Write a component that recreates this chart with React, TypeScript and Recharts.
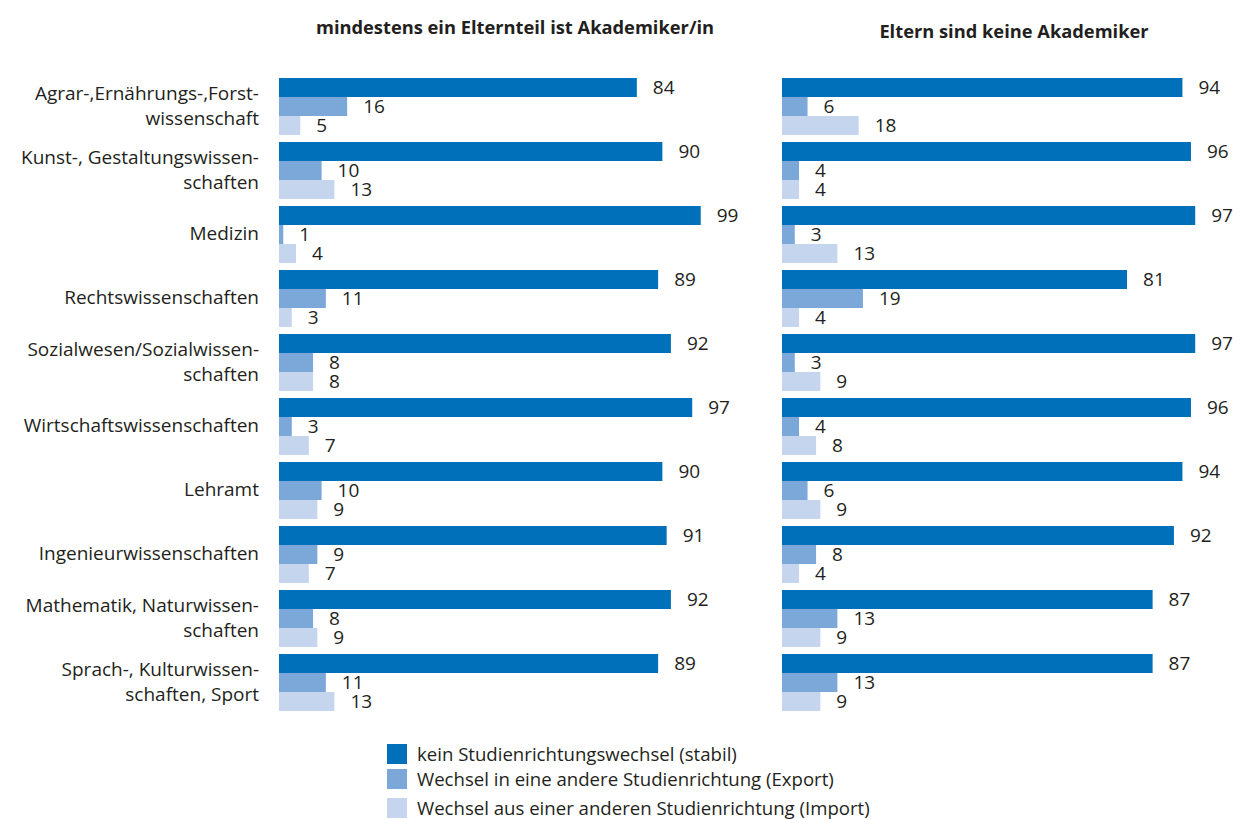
import { Bar, BarChart, LabelList, XAxis, YAxis } from 'recharts';

const categories = [
    'Agrar-,Ernährungs-,Forst-\nwissenschaft',
    'Kunst-, Gestaltungswissen-\nschaften',
    'Medizin',
    'Rechtswissenschaften',
    'Sozialwesen/Sozialwissen-\nschaften',
    'Wirtschaftswissenschaften',
    'Lehramt',
    'Ingenieurwissenschaften',
    'Mathematik, Naturwissen-\nschaften',
    'Sprach-, Kulturwissen-\nschaften, Sport',
];

// mindestens ein Elternteil ist Akademiker/in
const academicStable = [84, 90, 99, 89, 92, 97, 90, 91, 92, 89];
const academicExport = [16, 10, 1, 11, 8, 3, 10, 9, 8, 11];
const academicImport = [5, 13, 4, 3, 8, 7, 9, 7, 9, 13];

// Eltern sind keine Akademiker
const nonAcademicStable = [94, 96, 97, 81, 97, 96, 94, 92, 87, 87];
const nonAcademicExport = [6, 4, 3, 19, 3, 4, 6, 8, 13, 13];
const nonAcademicImport = [18, 4, 13, 4, 9, 8, 9, 4, 9, 9];

const seriesNames = [
    'kein Studienrichtungswechsel (stabil)',
    'Wechsel in eine andere Studienrichtung (Export)',
    'Wechsel aus einer anderen Studienrichtung (Import)',
];

const COLORS = ['#0070ba', '#7ba7d9', '#c6d5ee'];
const TEXT = '#231f20';
const FONT = '"Open Sans", sans-serif';

const buildRows = (stable: number[], exp: number[], imp: number[]) =>
    categories.map((name, i) => ({ name, stable: stable[i], export: exp[i], import: imp[i] }));

const CategoryTick = (props: any) => {
    const { x, y, payload } = props;
    const lines: string[] = String(payload.value).split('\n');
    const lh = 25;
    const startDy = -((lines.length - 1) * lh) / 2;
    return (
        <text x={x} y={y} textAnchor="end" fill={TEXT} fontSize={19} fontFamily={FONT}>
            {lines.map((l, i) => (
                <tspan key={i} x={x} dy={i === 0 ? startDy + 6 : lh}>{l}</tspan>
            ))}
        </text>
    );
};

function Panel({ data, showAxis, width, leftWidth }: { data: any[]; showAxis: boolean; width: number; leftWidth: number }) {
    return (
        <BarChart
            width={width}
            height={730}
            data={data}
            layout="vertical"
            margin={{ top: 74, right: width - leftWidth - 426, bottom: 16, left: 0 }}
            barCategoryGap={4}
            barGap={0}
        >
            <XAxis type="number" domain={[0, 100]} hide />
            <YAxis
                dataKey="name"
                type="category"
                width={leftWidth}
                hide={!showAxis}
                axisLine={false}
                tickLine={false}
                tickSize={0}
                tickMargin={20}
                interval={0}
                tick={<CategoryTick />}
            />
            {(['stable', 'export', 'import'] as const).map((key, i) => (
                <Bar key={key} dataKey={key} name={seriesNames[i]} fill={COLORS[i]} isAnimationActive={false}>
                    <LabelList dataKey={key} position="right" offset={16} fill={TEXT} fontSize={19} fontFamily={FONT} />
                </Bar>
            ))}
        </BarChart>
    );
}

export default function App() {
    const left = buildRows(academicStable, academicExport, academicImport);
    const right = buildRows(nonAcademicStable, nonAcademicExport, nonAcademicImport);
    return (
        <div style={{ position: 'absolute', left: 0, top: 0, width: 1244, height: 819, background: '#fff', fontFamily: FONT, color: TEXT, overflow: 'hidden' }}>
            <div style={{ position: 'absolute', left: 290, width: 450, top: 14, textAlign: 'center', fontWeight: 700, fontSize: 18.3 }}>
                mindestens ein Elternteil ist Akademiker/in
            </div>
            <div style={{ position: 'absolute', left: 854, width: 320, top: 18, textAlign: 'center', fontWeight: 700, fontSize: 18.3 }}>
                Eltern sind keine Akademiker
            </div>
            <div style={{ position: 'absolute', left: 0, top: 0 }}>
                <Panel data={left} showAxis width={760} leftWidth={279} />
            </div>
            <div style={{ position: 'absolute', left: 782, top: 0 }}>
                <Panel data={right} showAxis={false} width={462} leftWidth={0} />
            </div>
            <div style={{ position: 'absolute', left: 387, top: 744, fontSize: 18.6, lineHeight: '20px' }}>
                {seriesNames.map((n, i) => (
                    <div key={n} style={{ display: 'flex', alignItems: 'center', marginBottom: i === 1 ? 9 : 5 }}>
                        <span style={{ width: 20, height: 20, background: COLORS[i], marginRight: 10, display: 'inline-block', flexShrink: 0 }} />
                        <span>{n}</span>
                    </div>
                ))}
            </div>
        </div>
    );
}
